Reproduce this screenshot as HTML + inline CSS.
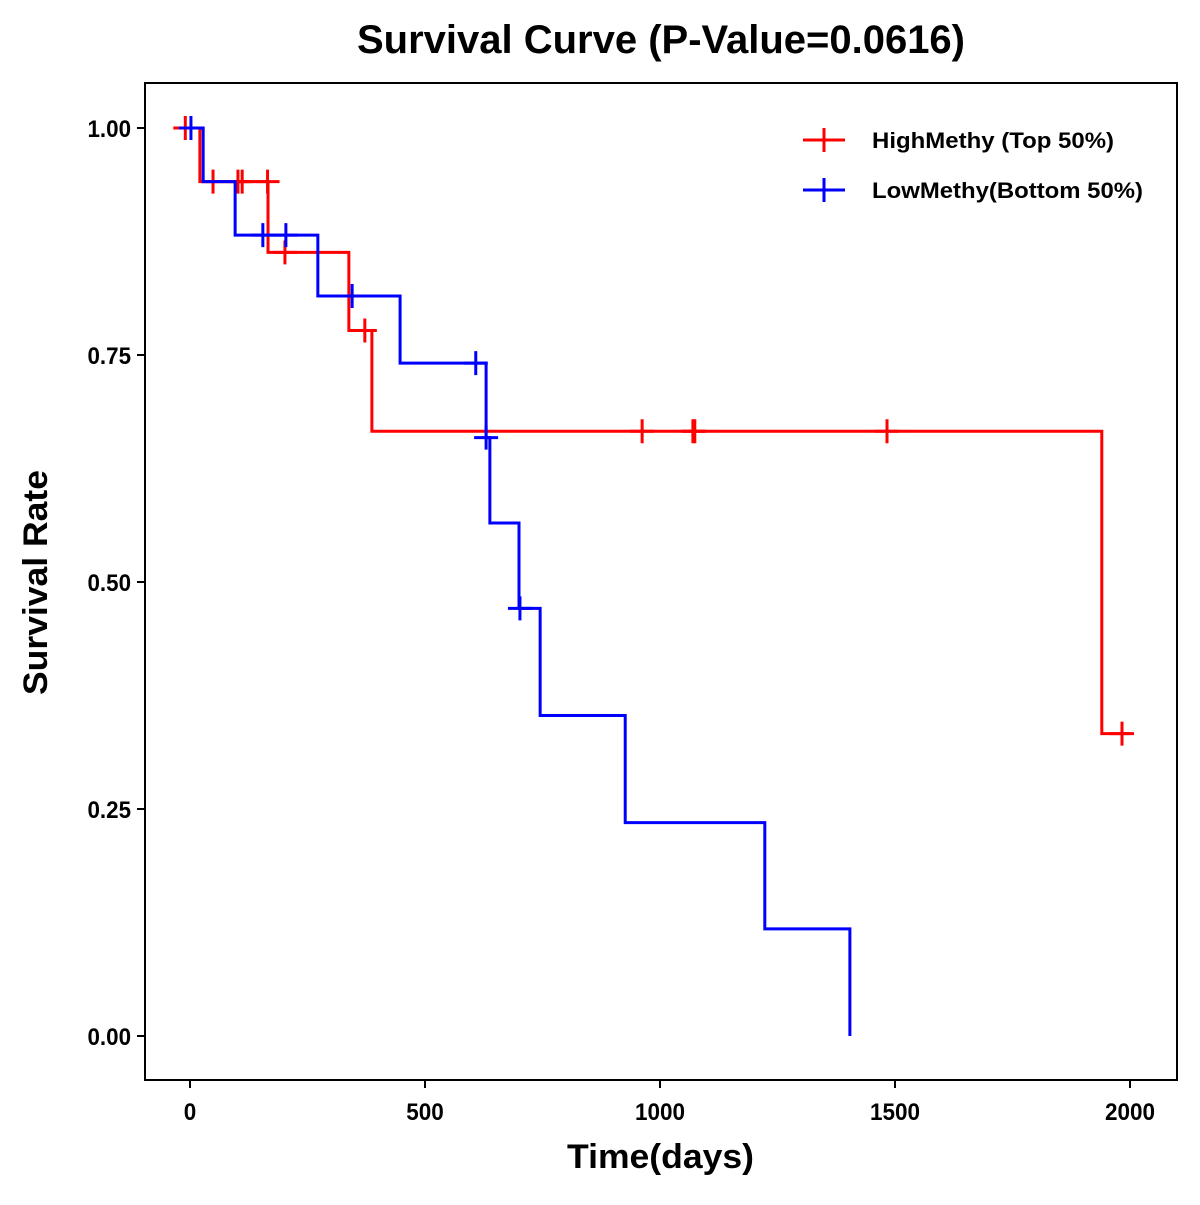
<!DOCTYPE html>
<html><head><meta charset="utf-8"><style>
body{margin:0;background:#fff;}
svg text{font-family:"Liberation Sans",Arial,sans-serif;font-weight:bold;fill:#000;}
</style></head><body>
<svg id="chart" width="1200" height="1200" xmlns="http://www.w3.org/2000/svg">
<text x="357" y="53" font-size="40" textLength="608" lengthAdjust="spacingAndGlyphs">Survival Curve (P-Value=0.0616)</text>
<rect x="145" y="83" width="1032" height="997" fill="none" stroke="#000" stroke-width="2"/>
<g id="axes"></g>
<g id="series"></g>
<text x="567" y="1168" font-size="34" textLength="187" lengthAdjust="spacingAndGlyphs">Time(days)</text>
<text transform="translate(47,695) rotate(-90)" font-size="34" textLength="225" lengthAdjust="spacingAndGlyphs">Survival Rate</text>
<g>
<g>
<line x1="803" y1="140" x2="845" y2="140" stroke="#ff0000" stroke-width="3"/>
<line x1="824" y1="128" x2="824" y2="152" stroke="#ff0000" stroke-width="3"/>
<text x="872" y="148" font-size="22" textLength="242" lengthAdjust="spacingAndGlyphs">HighMethy (Top 50%)</text></g>
<g>
<line x1="803" y1="190" x2="845" y2="190" stroke="#0000ff" stroke-width="3"/>
<line x1="824" y1="178" x2="824" y2="202" stroke="#0000ff" stroke-width="3"/>
<text x="872" y="198" font-size="22" textLength="271" lengthAdjust="spacingAndGlyphs">LowMethy(Bottom 50%)</text></g>
</g>
</svg>
<script>
const xTicks=[0,500,1000,1500,2000];
const yTicks=[0,0.25,0.5,0.75,1.0];
const yTickLabels=["0.00","0.25","0.50","0.75","1.00"];
const highTimes=[0,21,166,338,387,1940,2000];
const highSurv=[1.0,0.941,0.863,0.777,0.666,0.333,0.333];
const highCensorT=[-10,49,102,111,165,202,372,962,1070,1074,1483,1983];
const lowTimes=[0,28,96,272,447,630,638,700,745,926,1223,1404];
const lowSurv=[1.0,0.941,0.882,0.815,0.741,0.659,0.565,0.471,0.353,0.235,0.118,0.0];
const lowCensorT=[2,155,204,345,608,630,702];
const NS="http://www.w3.org/2000/svg";
const X=t=>190+t*0.47, Y=s=>1036-s*908;
function mk(tag,a,parent){const e=document.createElementNS(NS,tag);for(const k in a)e.setAttribute(k,a[k]);parent.appendChild(e);return e;}
function tl(s){let w=0;for(const c of String(s))w+=(c==='.')?6:12.5;return w;}
const axes=document.getElementById('axes'), ser=document.getElementById('series');
xTicks.forEach(t=>{
 const l=mk('line',{x1:X(t),x2:X(t),y1:1080,y2:1088,stroke:'#000','stroke-width':2},axes);
 
 
 const tx=mk('text',{x:X(t),y:1120,'font-size':24,'text-anchor':'middle',textLength:tl(t),lengthAdjust:'spacingAndGlyphs'},axes);tx.textContent=t;
 
 
});
yTicks.forEach((s,i)=>{
 const l=mk('line',{x1:137,x2:145,y1:Y(s),y2:Y(s),stroke:'#000','stroke-width':2},axes);
 
 
 const tx=mk('text',{x:131,y:Y(s)+9,'font-size':24,'text-anchor':'end',textLength:tl(yTickLabels[i]),lengthAdjust:'spacingAndGlyphs'},axes);tx.textContent=yTickLabels[i];
 
 
});
function survAt(times,surv,t){let s=surv[0];for(let i=0;i<times.length;i++){if(times[i]<=t)s=surv[i];}return s;}
function drawSeries(times,surv,cens,color,name){
 let d='M'+X(times[0])+' '+Y(surv[0]);
 for(let i=1;i<times.length;i++){d+=' H'+X(times[i])+' V'+Y(surv[i]);}
 const p=mk('path',{d:d,fill:'none',stroke:color,'stroke-width':3},ser);
 
 
 cens.forEach(t=>{
  const s=survAt(times,surv,Math.max(t,0));
  const g=mk('path',{d:`M${X(t)-12} ${Y(s)} H${X(t)+12} M${X(t)} ${Y(s)-12} V${Y(s)+12}`,stroke:color,'stroke-width':3,fill:'none'},ser);
  
  
 });
}
drawSeries(highTimes,highSurv,highCensorT,'#ff0000','high-methy');
drawSeries(lowTimes,lowSurv,lowCensorT,'#0000ff','low-methy');
</script>
</body></html>
